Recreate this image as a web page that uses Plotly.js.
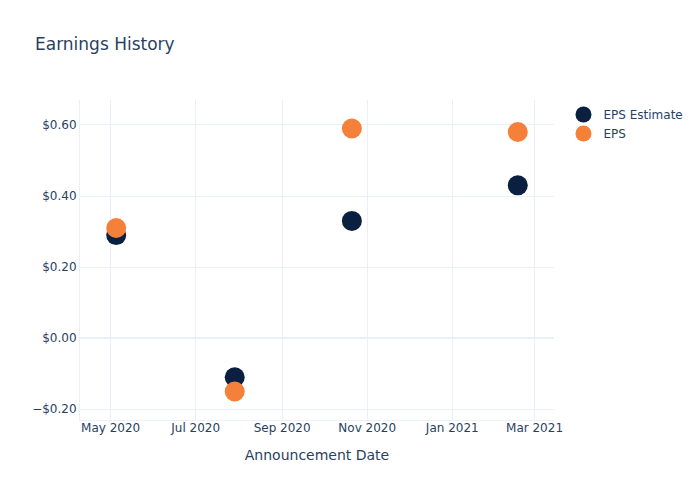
<!DOCTYPE html>
<html>
<head>
<meta charset="utf-8">
<script src="https://cdn.plot.ly/plotly-3.0.1.min.js"></script>
<style>
  html, body { margin: 0; padding: 0; background: white; }
  #plot { width: 700px; height: 500px; }
</style>
</head>
<body>
<div id="plot"></div>
<script>
// Announcement dates and EPS values
const dates = ["2020-05-05", "2020-07-29", "2020-10-21", "2021-02-17"];
const epsEstimate = [0.29, -0.11, 0.33, 0.43];
const epsActual = [0.31, -0.15, 0.59, 0.58];

const estimateTrace = {
  x: dates,
  y: epsEstimate,
  type: "scatter",
  mode: "markers",
  name: "EPS Estimate",
  marker: { color: "#0b1f40", size: 20 }
};

const actualTrace = {
  x: dates,
  y: epsActual,
  type: "scatter",
  mode: "markers",
  name: "EPS",
  marker: { color: "#f5803a", size: 20 }
};

const axisStyle = {
  gridcolor: "#EBF0F8",
  zerolinecolor: "#EBF0F8",
  zerolinewidth: 2,
  linecolor: "#EBF0F8",
  ticks: "",
  automargin: true
};

Plotly.newPlot(
  "plot",
  [estimateTrace, actualTrace],
  {
    width: 700,
    height: 500,
    font: { family: "DejaVu Sans, sans-serif", color: "#2a3f5f", size: 12 },
    paper_bgcolor: "white",
    plot_bgcolor: "white",
    title: { text: "Earnings History", x: 0.05, font: { size: 17 } },
    margin: { t: 100, r: 80, l: 80, b: 80 },
    xaxis: Object.assign({}, axisStyle, {
      title: { text: "Announcement Date", standoff: 15, font: { size: 14 } },
      type: "date",
      dtick: "M2",
      tickformat: "%b %Y",
      ticklen: 0,
      ticklabelstandoff: -3
    }),
    yaxis: Object.assign({}, axisStyle, {
      tickformat: "$.2f",
      dtick: 0.2
    }),
    legend: { font: { size: 12 } },
    showlegend: true
  },
  { displayModeBar: false }
);
</script>
</body>
</html>
